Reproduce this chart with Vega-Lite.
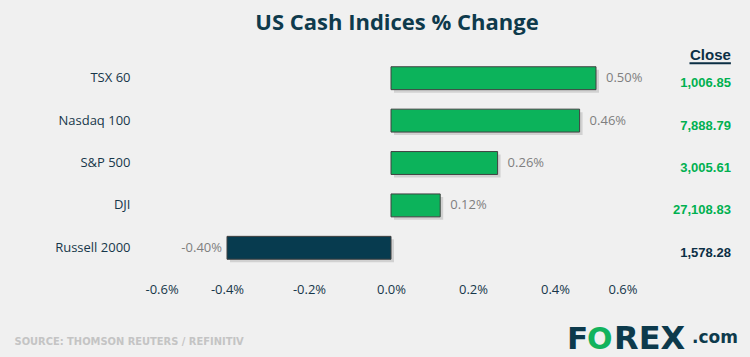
{
  "$schema": "https://vega.github.io/schema/vega-lite/v6.json",
  "autosize": {"type": "none"},
  "width": 492,
  "height": 212,
  "padding": {"left": 145, "top": 57, "right": 113, "bottom": 88},
  "background": "#f0f0f0",
  "title": {
    "text": "US Cash Indices % Change",
    "font": "Open Sans",
    "fontSize": 22,
    "fontWeight": "bold",
    "color": "#0e3a4c",
    "anchor": "middle",
    "frame": "group",
    "dx": 6,
    "offset": 13
  },
  "config": {"view": {"stroke": null}},
  "data": {
    "values": [
      {"index": "TSX 60", "change": 0.50, "label": "0.50%", "close": "1,006.85"},
      {"index": "Nasdaq 100", "change": 0.46, "label": "0.46%", "close": "7,888.79"},
      {"index": "S&P 500", "change": 0.26, "label": "0.26%", "close": "3,005.61"},
      {"index": "DJI", "change": 0.12, "label": "0.12%", "close": "27,108.83"},
      {"index": "Russell 2000", "change": -0.40, "label": "-0.40%", "close": "1,578.28"}
    ]
  },
  "encoding": {
    "y": {
      "field": "index",
      "type": "nominal",
      "sort": null,
      "scale": {"paddingInner": 0.46, "paddingOuter": 0.23},
      "axis": {
        "title": null,
        "domain": false,
        "ticks": false,
        "tickSize": 0,
        "labelPadding": 15,
        "labelFont": "Open Sans",
        "labelFontSize": 13,
        "labelColor": "#17374a"
      }
    }
  },
  "layer": [
    {
      "mark": {"type": "bar", "color": "#000000", "opacity": 0.13, "xOffset": 3, "yOffset": 3},
      "encoding": {
        "x": {
          "field": "change",
          "type": "quantitative",
          "scale": {"domain": [-0.6, 0.6], "nice": false},
          "axis": {
            "values": [-0.6, -0.4, -0.2, 0, 0.2, 0.4, 0.6],
            "labelExpr": "(datum.value < -0.0001 ? '-' : '') + format(abs(datum.value), '.1f') + '%'",
            "grid": false,
            "domain": false,
            "ticks": false,
            "tickSize": 0,
            "labelPadding": 14,
            "labelFont": "Open Sans",
            "labelFontSize": 13,
            "labelColor": "#17374a",
            "title": "SOURCE: THOMSON REUTERS / REFINITIV",
            "titleFont": "DejaVu Sans Condensed, Liberation Sans Narrow, Roboto Condensed, Open Sans",
            "titleFontSize": 11,
            "titleFontWeight": "bold",
            "titleColor": "#c4c4c4",
            "titleAlign": "left",
            "titleBaseline": "middle",
            "titleX": -131,
            "titleY": 72
          }
        }
      }
    },
    {
      "mark": {"type": "bar", "stroke": "#404040", "strokeWidth": 1},
      "encoding": {
        "x": {"field": "change", "type": "quantitative"},
        "color": {
          "condition": {"test": "datum.change < 0", "value": "#073b4f"},
          "value": "#0cb35b"
        }
      }
    },
    {
      "transform": [{"filter": "datum.change >= 0"}],
      "mark": {"type": "text", "align": "left", "dx": 10, "font": "Open Sans", "fontSize": 13, "color": "#7f7f7f"},
      "encoding": {
        "x": {"field": "change", "type": "quantitative"},
        "text": {"field": "label"}
      }
    },
    {
      "transform": [{"filter": "datum.change < 0"}],
      "mark": {"type": "text", "align": "right", "dx": -5, "font": "Open Sans", "fontSize": 13, "color": "#7f7f7f"},
      "encoding": {
        "x": {"field": "change", "type": "quantitative"},
        "text": {"field": "label"}
      }
    },
    {
      "mark": {"type": "text", "align": "right", "dy": 5, "font": "Liberation Sans", "fontSize": 13, "fontWeight": "bold"},
      "encoding": {
        "x": {"datum": 0.829},
        "text": {"field": "close"},
        "color": {
          "condition": {"test": "datum.change < 0", "value": "#0b2f45"},
          "value": "#00b050"
        }
      }
    },
    {
      "data": {"values": [{"header": "Close", "row": "TSX 60"}]},
      "layer": [
        {
          "mark": {"type": "text", "align": "right", "baseline": "middle", "dy": -23, "font": "Liberation Sans", "fontSize": 15, "fontWeight": "bold", "color": "#0b2f45"},
          "encoding": {
            "x": {"datum": 0.829},
            "y": {"field": "row", "type": "nominal"},
            "text": {"field": "header"}
          }
        },
        {
          "mark": {"type": "rule", "color": "#0b2f45", "strokeWidth": 2, "yOffset": -15},
          "encoding": {
            "x": {"datum": 0.728},
            "x2": {"datum": 0.829},
            "y": {"field": "row", "type": "nominal"}
          }
        }
      ]
    },
    {
      "data": {"values": [{"row": "Russell 2000", "a": "F", "b": "O", "c": "REX", "d": ".com"}]},
      "layer": [
        {
          "mark": {"type": "text", "align": "left", "baseline": "alphabetic", "dx": -70, "dy": 101, "font": "DejaVu Sans", "fontSize": 31, "fontWeight": "bold", "color": "#0d3a4c"},
          "encoding": {"x": {"datum": 0.6}, "y": {"field": "row", "type": "nominal"}, "text": {"field": "a"}}
        },
        {
          "mark": {"type": "text", "align": "left", "baseline": "alphabetic", "dx": -50, "dy": 101, "font": "DejaVu Sans", "fontSize": 30, "fontWeight": "bold", "color": "#12b35d"},
          "encoding": {"x": {"datum": 0.6}, "y": {"field": "row", "type": "nominal"}, "text": {"field": "b"}}
        },
        {
          "mark": {"type": "text", "align": "left", "baseline": "alphabetic", "dx": -23, "dy": 101, "font": "DejaVu Sans", "fontSize": 32, "fontWeight": "bold", "color": "#0d3a4c"},
          "encoding": {"x": {"datum": 0.6}, "y": {"field": "row", "type": "nominal"}, "text": {"field": "c"}}
        },
        {
          "mark": {"type": "text", "align": "left", "baseline": "alphabetic", "dx": 55, "dy": 95, "font": "DejaVu Sans", "fontSize": 17, "fontWeight": "bold", "color": "#0d3a4c"},
          "encoding": {"x": {"datum": 0.6}, "y": {"field": "row", "type": "nominal"}, "text": {"field": "d"}}
        }
      ]
    }
  ]
}
